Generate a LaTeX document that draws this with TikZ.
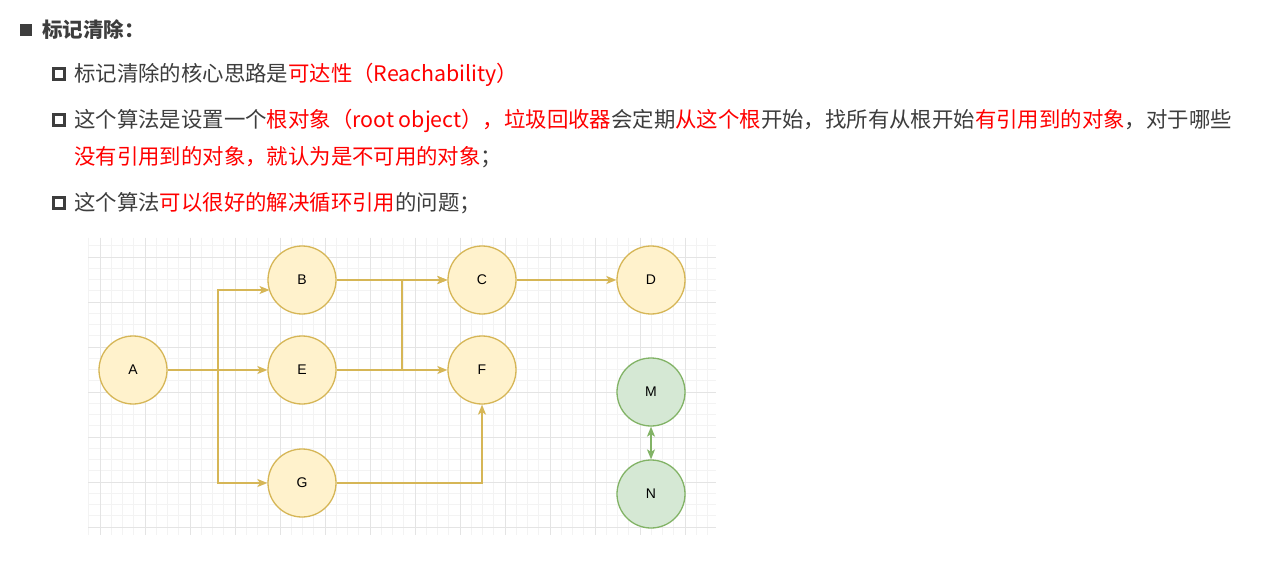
\documentclass[tikz,border=0pt]{standalone}
\usepackage{fontspec}
\setmainfont{Liberation Sans}
\newfontfamily\cjk{Noto Sans CJK SC}
\usetikzlibrary{arrows.meta}
\definecolor{txt}{HTML}{3D3D3D}
\definecolor{hl}{HTML}{FF0000}
\definecolor{yfill}{HTML}{FFF2CC}
\definecolor{ydraw}{HTML}{D6B656}
\definecolor{gfill}{HTML}{D5E8D4}
\definecolor{gdraw}{HTML}{82B366}
\definecolor{gridminor}{HTML}{F3F3F3}
\definecolor{gridmajor}{HTML}{E4E4E4}
\newcommand{\hlt}[1]{\textcolor{hl}{#1}}
\begin{document}
\begin{tikzpicture}[x=1pt,y=-1pt,
  line/.style={anchor=base west,inner sep=0pt,text=txt,font=\cjk\fontsize{21.4}{25}\selectfont},
  ynode/.style={circle,minimum size=68pt,inner sep=0pt,fill=yfill,draw=ydraw,line width=1.3pt,font=\fontsize{14}{16}\selectfont},
  gnode/.style={circle,minimum size=68pt,inner sep=0pt,fill=gfill,draw=gdraw,line width=1.3pt,font=\fontsize{14}{16}\selectfont},
  yedge/.style={draw=ydraw,line width=1.4pt,-{Stealth[length=10pt,width=8pt,inset=2.5pt]}},
  gedge/.style={draw=gdraw,line width=1.4pt,{Stealth[length=10pt,width=8pt,inset=2.5pt]}-{Stealth[length=10pt,width=8pt,inset=2.5pt]}},
  hollow/.style={draw=txt,line width=3pt}
]
\useasboundingbox (0,0) rectangle (1261,564);
\fill[white] (0,0) rectangle (1261,564);
% text
\fill[txt] (20,24) rectangle (32,36);
\node[line,font=\cjk\bfseries\fontsize{20.5}{24}\selectfont] (t1) at (42,38) {标记清除：};
\draw[hollow] (53.5,68.5) rectangle (64.5,79.5);
\node[line] (t2) at (74,82) {标记清除的核心思路是\hlt{可达性（Reachability）}};
\draw[hollow] (53.5,114.5) rectangle (64.5,125.5);
\node[line] (t3) at (74,128) {这个算法是设置一个\hlt{根对象（root object），垃圾回收器}会定期\hlt{从这个根}开始，找所有从根开始\hlt{有引用到的对象}，对于哪些};
\node[line] (t4) at (74,165) {\hlt{没有引用到的对象，就认为是不可用的对象}；};
\draw[hollow] (53.5,197.5) rectangle (64.5,208.5);
\node[line] (t5) at (74,211) {这个算法\hlt{可以很好的解决循环引用}的问题；};
% grid
\begin{scope}
\clip (88,238) rectangle (716,535);
\foreach \i in {-1,...,56} {
  \draw[gridminor,line width=0.8pt] ({100+11.25*\i},238) -- ({100+11.25*\i},535);
}
\foreach \i in {-2,...,26} {
  \draw[gridminor,line width=0.8pt] (88,{257+11.25*\i}) -- (716,{257+11.25*\i});
}
\foreach \i in {0,...,13} {
  \draw[gridmajor,line width=1pt] ({100+45*\i},238) -- ({100+45*\i},535);
}
\foreach \i in {0,...,6} {
  \draw[gridmajor,line width=1pt] (88,{257+45*\i}) -- (716,{257+45*\i});
}
\end{scope}
% nodes
\node[ynode] (A) at (133,370) {A};
\node[ynode] (B) at (302,280) {B};
\node[ynode] (E) at (302,370) {E};
\node[ynode] (G) at (302,483) {G};
\node[ynode] (C) at (482,280) {C};
\node[ynode] (F) at (482,370) {F};
\node[ynode] (D) at (651,280) {D};
\node[gnode] (M) at (651,392) {M};
\node[gnode] (N) at (651,494) {N};
\coordinate (j1) at (218,370);
\coordinate (j2) at (402,370);
\coordinate (Bin) at (269.5,290);
% edges
\draw[yedge] (A.east) -- (j1) |- (Bin);
\draw[yedge] (A.east) -- (j1) |- (G.west);
\draw[yedge] (A) -- (E);
\draw[yedge] (B) -- (C);
\draw[yedge] (E.east) -- (j2) |- (C.west);
\draw[yedge] (E) -- (F);
\draw[yedge] (C) -- (D);
\draw[yedge] (G.east) -| (F.south);
\draw[gedge] (M) -- (N);
\end{tikzpicture}
\end{document}
